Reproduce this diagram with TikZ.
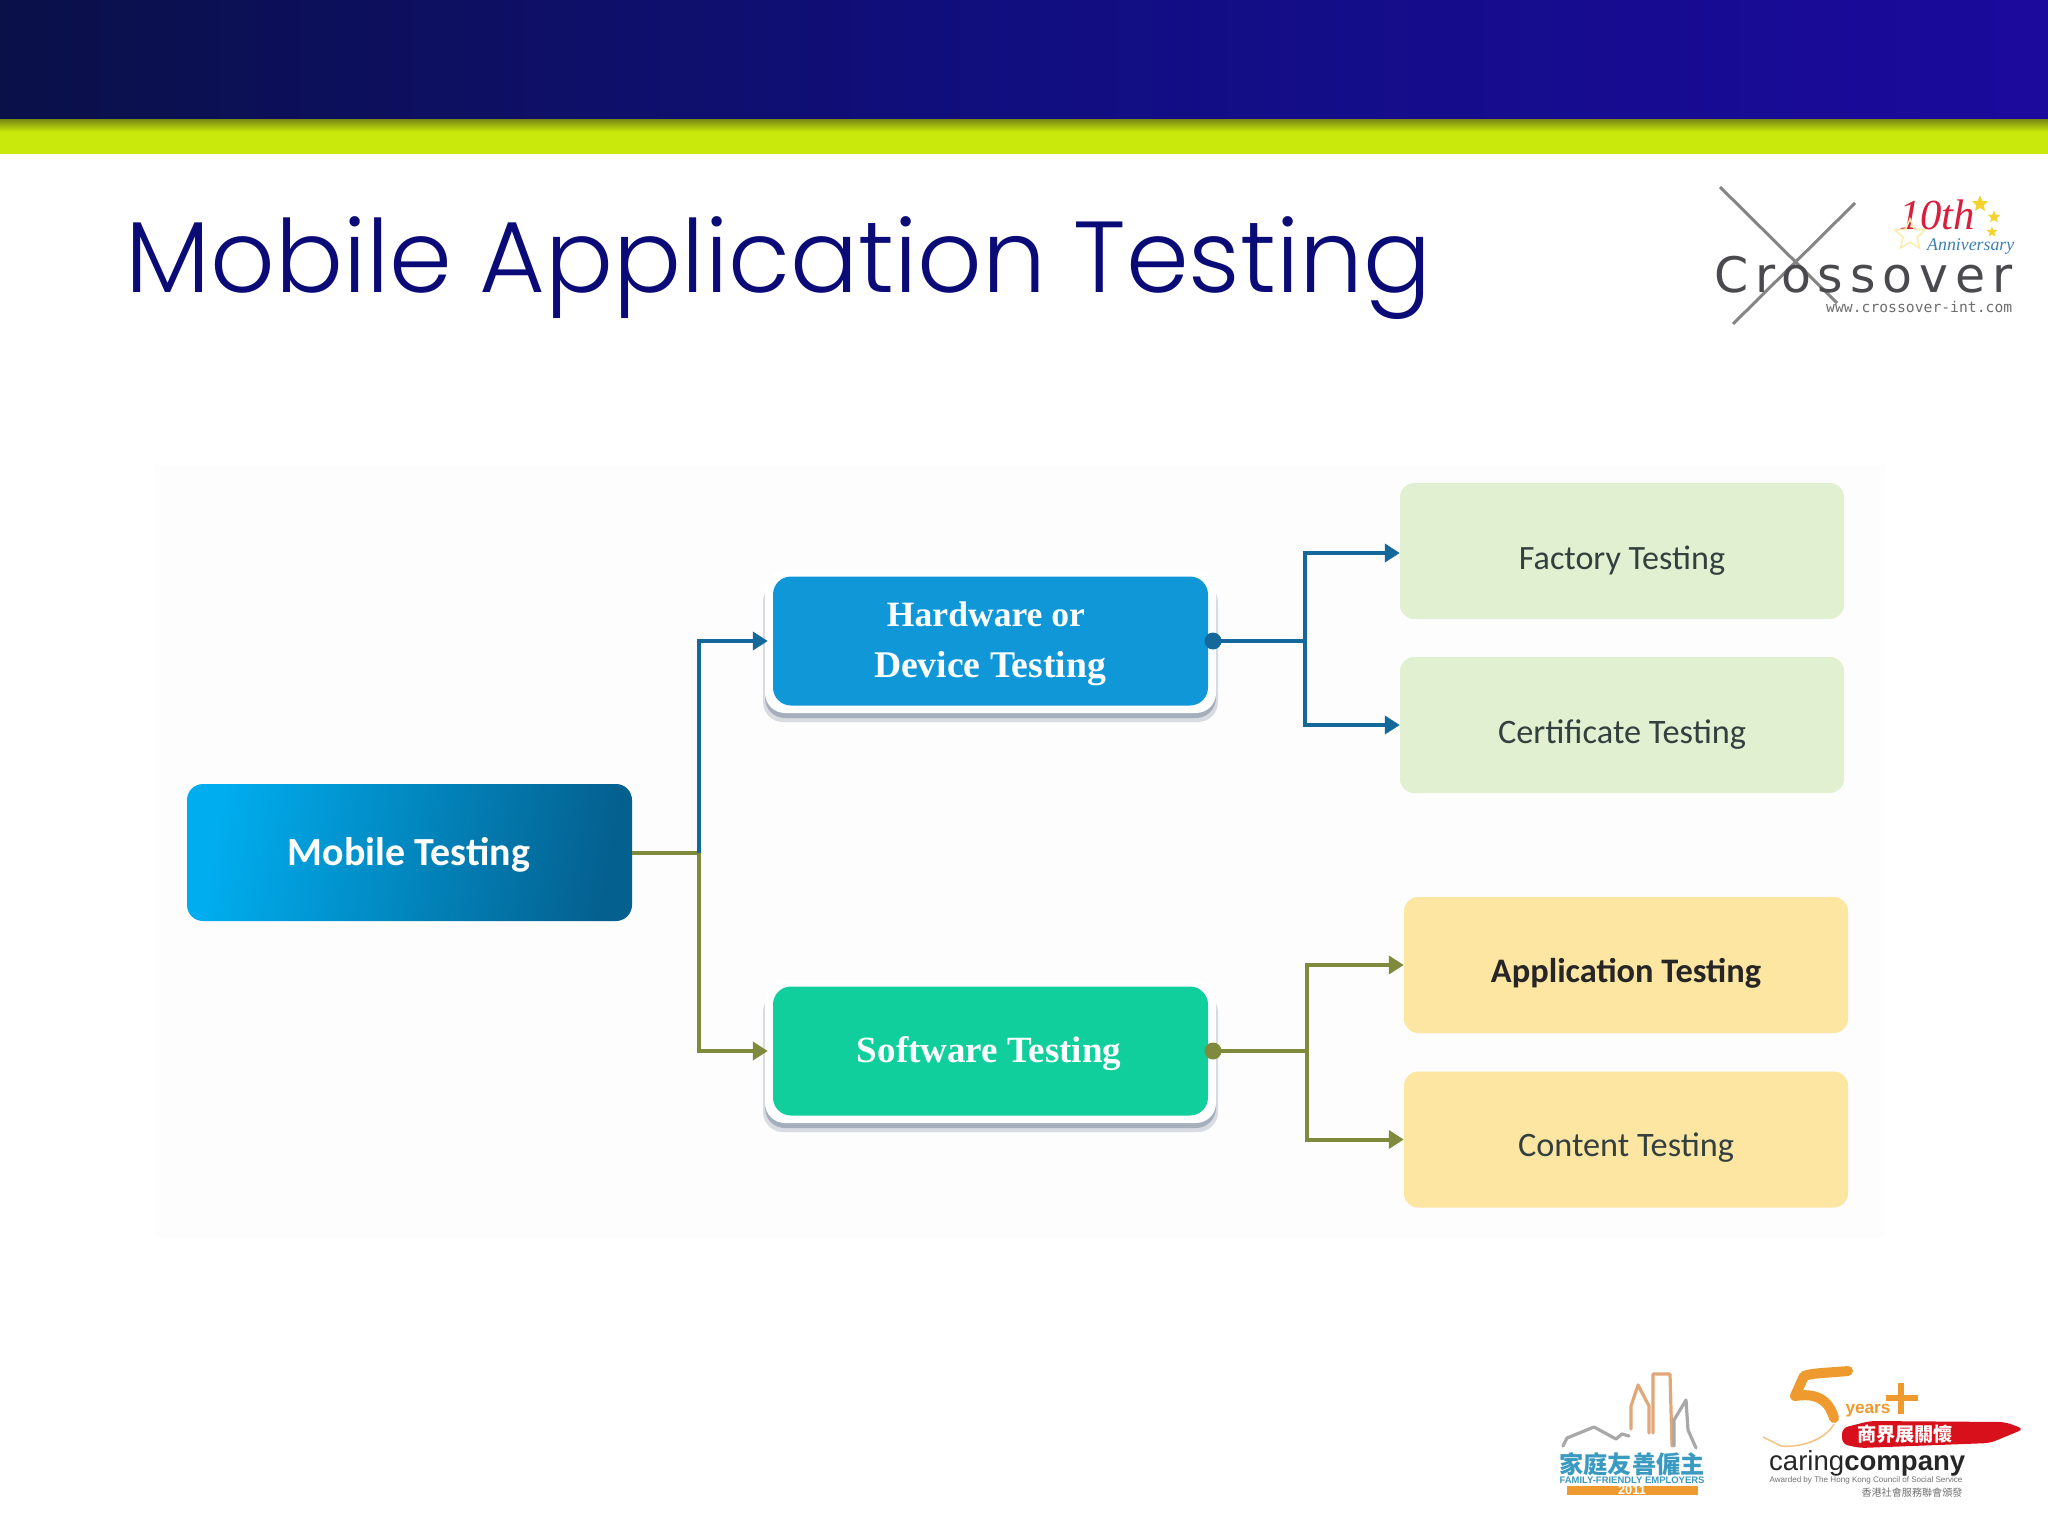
\documentclass[tikz,border=0pt]{standalone}
\usepackage{fontspec}
\usepackage{graphicx}
\usetikzlibrary{arrows.meta,calc,shapes.geometric}
\setmainfont{Carlito}
\newfontfamily\titlefont{Poppins Light}
\newfontfamily\seriffont{Liberation Serif}
\newfontfamily\logosans{DejaVu Sans}
\newfontfamily\logomono{DejaVu Sans Mono}
\newfontfamily\cjkfont{Noto Sans CJK TC}
\newfontfamily\headsans{Liberation Sans}
\newcommand{\fitw}[2]{\resizebox{#1pt}{!}{#2}}
\definecolor{bandL}{HTML}{0A1048}
\definecolor{bandM}{HTML}{110E80}
\definecolor{bandR}{HTML}{1B0A9C}
\definecolor{lime}{HTML}{C9E90C}
\definecolor{limeD}{HTML}{7E8E12}
\definecolor{titlec}{HTML}{0B0B78}
\definecolor{linkblue}{HTML}{14689A}
\definecolor{linkolive}{HTML}{7F8A3C}
\definecolor{hwblue}{HTML}{0F97D8}
\definecolor{swgreen}{HTML}{10CF9C}
\definecolor{rootL}{HTML}{00AEEF}
\definecolor{rootR}{HTML}{04608F}
\definecolor{leafgreen}{HTML}{E1F0D0}
\definecolor{leafyellow}{HTML}{FDE5A2}
\definecolor{leaftext}{HTML}{334040}
\definecolor{logogray}{HTML}{4A4A4E}
\definecolor{logoor}{HTML}{EE9A2E}
\definecolor{skytan}{HTML}{E0A878}
\definecolor{skygray}{HTML}{A8A8A8}
\definecolor{skyblue}{HTML}{3A9AC0}
\definecolor{brush}{HTML}{D8101C}
\definecolor{starY}{HTML}{F5D22E}
\definecolor{annred}{HTML}{D8203C}
\definecolor{annblue}{HTML}{3C80B0}
\definecolor{shadowc}{HTML}{8F9AAA}
\tikzset{
  rootbox/.style={rounded corners=16pt,minimum width=445pt,minimum height=137pt,inner sep=0pt,left color=rootL,right color=rootR,shading angle=80},
  midbox/.style={fill=#1,rounded corners=18pt,minimum width=435pt,minimum height=129pt,inner sep=0pt},
  leafbox/.style={fill=#1,rounded corners=14pt,minimum width=444pt,minimum height=136pt,inner sep=0pt},
  boxtext/.style={inner sep=0pt,text=white,font=\bfseries},
  midtext/.style={inner sep=0pt,text=white,font=\seriffont\bfseries},
  leaftxt/.style={inner sep=0pt,text=leaftext},
  blueLink/.style={draw=linkblue,line width=4pt},
  oliveLink/.style={draw=linkolive,line width=4pt},
  tipped/.style={-{Triangle[length=15pt,width=18pt]}},
  sky/.style={line width=3.2pt,line join=round,line cap=round},
  staricon/.style={star,star points=5,star point ratio=2.2,fill=starY,inner sep=0pt,minimum size=#1},
}
\begin{document}
\begin{tikzpicture}[x=1pt,y=-1pt]
\useasboundingbox (0,0) rectangle (2048,1536);
\fill[white] (0,0) rectangle (2048,1536);
% header bands
\shade[left color=bandL,right color=bandR,middle color=bandM] (0,0) rectangle (2048,120);
\fill[lime] (0,120) rectangle (2048,154);
\shade[top color=limeD,bottom color=lime] (0,120) rectangle (2048,132);
% title
\node[anchor=west,inner sep=0pt,text=titlec] (title) at (125,268) {\fitw{1306}{\titlefont Mobile Application Testing}};
% panel
\fill[black!0.8!white] (155,465) rectangle (1885,1238);
% halo and shadow behind middle boxes
\fill[shadowc!35!white,rounded corners=20pt] (763,582) rectangle (1218,722);
\fill[shadowc!80!white,rounded corners=20pt] (765,580) rectangle (1216,718);
\fill[white,rounded corners=20pt] (765,570) rectangle (1216,713);
\fill[shadowc!35!white,rounded corners=20pt] (763,992) rectangle (1218,1132);
\fill[shadowc!80!white,rounded corners=20pt] (765,990) rectangle (1216,1128);
\fill[white,rounded corners=20pt] (765,980) rectangle (1216,1123);
% boxes
\node[rootbox] (mob) at (409.5,852.5) {};
\node[boxtext] (mobt) at (409,855) {\fitw{242}{Mobile Testing}};
\node[midbox=hwblue] (hw) at (990.5,641) {};
\node[midtext] (hwa) at (986,614) {\fitw{198}{Hardware or}};
\node[midtext] (hwb) at (990,669) {\fitw{232}{Device Testing}};
\node[midbox=swgreen] (sw) at (990.5,1051) {};
\node[midtext] (swt) at (989,1054) {\fitw{264}{Software Testing}};
\node[leafbox=leafgreen] (fac) at (1622,551) {};
\node[leaftxt] (fact) at (1622,561) {\fitw{206}{Factory Testing}};
\node[leafbox=leafgreen] (cert) at (1622,725) {};
\node[leaftxt] (certt) at (1622,735) {\fitw{248}{Certificate Testing}};
\node[leafbox=leafyellow] (app) at (1626,965) {};
\node[leaftxt,font=\bfseries,text=black!85] (appt) at (1626,973) {\fitw{270}{Application Testing}};
\node[leafbox=leafyellow] (con) at (1626,1139.5) {};
\node[leaftxt] (cont) at (1626,1148) {\fitw{216}{Content Testing}};
% junctions
\coordinate (trunk) at (699,853);
\coordinate (hwj) at (1305,641);
\coordinate (swj) at (1307,1051);
\coordinate (hwport) at (1213,641);
\coordinate (swport) at (1213,1051);
% connectors
\draw[oliveLink,tipped] (mob.east |- trunk) -- (trunk) |- ($(sw.west)+(-5,0)$);
\draw[blueLink,tipped] (trunk) |- ($(hw.west)+(-5,0)$);
\draw[blueLink] (hwport) -- (hwj);
\draw[blueLink,tipped] (hwj) |- ($(fac.west)+(0,2)$);
\draw[blueLink,tipped] (hwj) |- (cert.west);
\fill[linkblue] (hwport) circle (8.5pt);
\draw[oliveLink] (swport) -- (swj);
\draw[oliveLink,tipped] (swj) |- (app.west);
\draw[oliveLink,tipped] (swj) |- (con.west);
\fill[linkolive] (swport) circle (8.5pt);
% Crossover logo
\draw[black!48,line width=3pt] (1720,187) -- (1837,303);
\draw[black!48,line width=3pt] (1855,203) -- (1733,324);
\node[inner sep=0pt,text=logogray,anchor=base west] (cross) at (1714,292) {\fitw{298}{\logosans\addfontfeature{LetterSpace=14}Crossover}};
\node[inner sep=0pt,text=logogray!80,anchor=base west] (www) at (1826,312) {\fitw{186}{\logomono www.crossover-int.com}};
\node[inner sep=0pt,text=annred,anchor=base west] (tenth) at (1899,229) {\fitw{76}{\seriffont\itshape 10th}};
\node[inner sep=0pt,text=annblue,anchor=base west] (anniv) at (1927,250) {\fitw{87}{\seriffont\itshape Anniversary}};
\node[staricon=17pt] (s1) at (1980,204) {};
\node[staricon=13pt] (s2) at (1994,217) {};
\node[staricon=11pt] (s3) at (1992,232) {};
\node[star,star points=5,star point ratio=2.2,draw=starY!40,line width=1.5pt,inner sep=0pt,minimum size=32pt] (s4) at (1910,235) {};
% Family-friendly logo
\draw[sky,draw=skygray] (1563,1446) -- (1567,1438) -- (1594,1427) -- (1616,1439) -- (1622,1434) -- (1629,1436);
\draw[sky,draw=skytan] (1631,1429) -- (1631,1406) -- (1638,1385) -- (1649,1406) -- (1649,1433);
\draw[sky,draw=skytan] (1653,1433) -- (1653,1374) -- (1670,1374) -- (1672,1446);
\draw[sky,draw=skygray] (1674,1446) -- (1674,1420) -- (1686,1400) -- (1688,1430) -- (1696,1448);
\node[inner sep=0pt,text=skyblue] (ffa) at (1632,1464) {\fitw{145}{\cjkfont\bfseries 家庭友善僱主}};
\node[inner sep=0pt,text=skyblue] (ffb) at (1632,1480) {\fitw{145}{\headsans\bfseries FAMILY-FRIENDLY EMPLOYERS}};
\fill[logoor] (1567,1486) rectangle (1698,1495);
\node[inner sep=0pt,text=white] (ffc) at (1632,1490.5) {\fitw{28}{\headsans\bfseries 2011}};
% Caring company logo
\draw[logoor,line width=10pt,line cap=round,line join=round] (1848,1371) .. controls (1825,1373) and (1812,1373) .. (1804,1376) -- (1795,1396) .. controls (1815,1393) and (1828,1398) .. (1834,1418);
\draw[logoor!60,line width=1.5pt] (1834,1424) .. controls (1825,1440) and (1800,1448) .. (1781,1446) -- (1763,1437);
\draw[logoor,line width=6pt] (1901,1383) -- (1901,1414);
\draw[logoor,line width=6pt] (1886,1398) -- (1918,1398);
\node[inner sep=0pt,text=logoor] (yrs) at (1868,1411) {\fitw{45}{\headsans\bfseries years}};
\fill[brush,rounded corners=6pt] (1842,1428) -- (1870,1421) -- (2005,1422) -- (2024,1429) -- (1990,1443) -- (1860,1448) -- (1842,1444) -- cycle;
\node[inner sep=0pt,text=white] (sj) at (1905,1434) {\fitw{96}{\cjkfont\bfseries 商界展關懷}};
\node[inner sep=0pt,text=black!85,anchor=base west] (cc) at (1769,1470) {\fitw{196}{\headsans caring\bfseries company}};
\node[inner sep=0pt,text=black!55] (aw) at (1866,1480) {\fitw{193}{\headsans Awarded by The Hong Kong Council of Social Service}};
\node[inner sep=0pt,text=black!55] (awc) at (1912,1493) {\fitw{101}{\cjkfont 香港社會服務聯會頒發}};
\end{tikzpicture}
\end{document}
